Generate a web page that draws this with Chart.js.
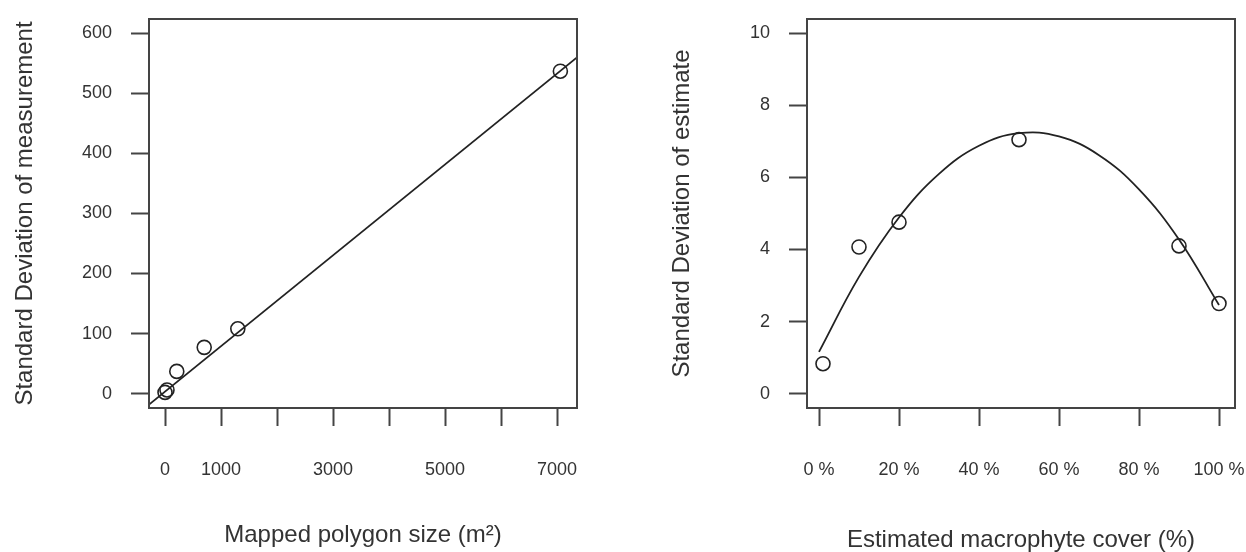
<html>
<head>
<meta charset="UTF-8">
<title>Standard deviation plots</title>
<script src="https://cdn.jsdelivr.net/npm/chart.js@4/dist/chart.umd.min.js"></script>
<style>
 body { margin: 0; background: #fff; overflow: hidden; }
 .panel { position: absolute; top: 0; width: 623px; height: 552px; }
 #left { left: 0; }
 #right { left: 623px; }
</style>
</head>
<body>
<div class="panel" id="left"><canvas id="sizeChart" width="623" height="552"></canvas></div>
<div class="panel" id="right"><canvas id="coverChart" width="623" height="552"></canvas></div>

<script>
 // left panel: mapped polygon size vs SD of measurement
 var sizeX = [0, 35, 210, 700, 1300, 7060];
 var sizeSD = [2, 6, 37, 77, 108, 537];
 var sizeFitX = [-286, 7357];
 var sizeFitY = [-18.3, 560];
 var sizeTicksX = [0, 1000, 2000, 3000, 4000, 5000, 6000, 7000];
 var sizeLabelsX = [0, 1000, 3000, 5000, 7000];
 var sizeTicksY = [0, 100, 200, 300, 400, 500, 600];

 // right panel: estimated cover vs SD of estimate
 var coverX = [1, 10, 20, 50, 90, 100];
 var coverSD = [0.83, 4.07, 4.76, 7.05, 4.1, 2.5];
 var coverCurveX = [0, 10, 20, 30, 40, 50, 60, 70, 80, 90, 100];
 var coverCurveY = [1.16, 3.24, 4.89, 6.10, 6.88, 7.23, 7.14, 6.62, 5.67, 4.28, 2.46];
 var coverTicksX = [0, 20, 40, 60, 80, 100];
 var coverTicksY = [0, 2, 4, 6, 8, 10];

 var ink = '#333';
 var frame = '#444';

 function pairs(xs, ys) {
     return xs.map(function (x, i) { return {x: x, y: ys[i]}; });
 }

 // R-like box around the plot region
 var boxPlugin = {
     id: 'box',
     afterDraw: function (chart) {
	 var a = chart.chartArea, ctx = chart.ctx;
	 ctx.save();
	 ctx.strokeStyle = frame;
	 ctx.lineWidth = 2;
	 ctx.strokeRect(a.left, a.top, a.right - a.left, a.bottom - a.top);
	 ctx.restore();
     }
 };

 function xAxis(min, max, tickVals, label, fmt, titlePad) {
     return {
	 type: 'linear', position: 'bottom', min: min, max: max,
	 afterBuildTicks: function (s) { s.ticks = tickVals.map(function (v) { return {value: v}; }); },
	 afterFit: function (s) { s.height = 144; s.paddingLeft = 0; s.paddingRight = 0; },
	 border: { display: false },
	 grid: { drawOnChartArea: false, drawTicks: true, tickLength: 18, tickWidth: 2, tickColor: frame },
	 ticks: { autoSkip: false, maxRotation: 0, padding: 33, color: ink,
		  font: { family: 'Liberation Sans', size: 18, lineHeight: 1.2 }, callback: fmt },
	 title: { display: true, text: label, color: ink, padding: { top: 0, bottom: titlePad },
		  font: { family: 'Liberation Sans', size: 24, lineHeight: 1 } }
     };
 }

 function yAxis(min, max, tickVals, label, width, titlePad) {
     return {
	 type: 'linear', position: 'left', min: min, max: max,
	 afterBuildTicks: function (s) { s.ticks = tickVals.map(function (v) { return {value: v}; }); },
	 afterFit: function (s) { s.width = width; s.paddingTop = 0; s.paddingBottom = 0; },
	 border: { display: false },
	 grid: { drawOnChartArea: false, drawTicks: true, tickLength: 18, tickWidth: 2, tickColor: frame },
	 ticks: { padding: 19, color: ink, font: { family: 'Liberation Sans', size: 18 } },
	 title: { display: true, text: label, color: ink, padding: { top: titlePad, bottom: 0 },
		  font: { family: 'Liberation Sans', size: 24, lineHeight: 1 } }
     };
 }

 function pointSet(data) {
     return { data: data, pointRadius: 7, pointHoverRadius: 7, pointBorderWidth: 1.6,
	      borderColor: '#222', backgroundColor: 'rgba(0,0,0,0)', showLine: false };
 }

 function lineSet(data, tension) {
     return { data: data, showLine: true, pointRadius: 0, borderWidth: 1.8,
	      borderColor: '#222', tension: tension, fill: false };
 }

 new Chart(document.getElementById('sizeChart'), {
     type: 'scatter',
     data: { datasets: [ pointSet(pairs(sizeX, sizeSD)), lineSet(pairs(sizeFitX, sizeFitY), 0) ] },
     options: {
	 responsive: false, animation: false, devicePixelRatio: 1,
	 layout: { padding: { left: 0, top: 19, right: 46, bottom: 0 } },
	 plugins: { legend: { display: false }, tooltip: { enabled: false } },
	 scales: {
	     x: xAxis(-286, 7357, sizeTicksX, 'Mapped polygon size (m\u00B2)',
		      function (v) { return sizeLabelsX.indexOf(v) >= 0 ? String(v) : ''; }, 5),
	     y: yAxis(-24, 624, sizeTicksY, 'Standard Deviation of measurement', 149, 13)
	 }
     },
     plugins: [boxPlugin]
 });

 new Chart(document.getElementById('coverChart'), {
     type: 'scatter',
     data: { datasets: [ pointSet(pairs(coverX, coverSD)), lineSet(pairs(coverCurveX, coverCurveY), 0.4) ] },
     options: {
	 responsive: false, animation: false, devicePixelRatio: 1,
	 layout: { padding: { left: 0, top: 19, right: 11, bottom: 0 } },
	 plugins: { legend: { display: false }, tooltip: { enabled: false } },
	 scales: {
	     x: xAxis(-3, 104, coverTicksX, 'Estimated macrophyte cover (%)',
		      function (v) { return v + ' %'; }, 0),
	     y: yAxis(-0.4, 10.4, coverTicksY, 'Standard Deviation of estimate', 184, 47)
	 }
     },
     plugins: [boxPlugin]
 });
</script>
</body>
</html>
